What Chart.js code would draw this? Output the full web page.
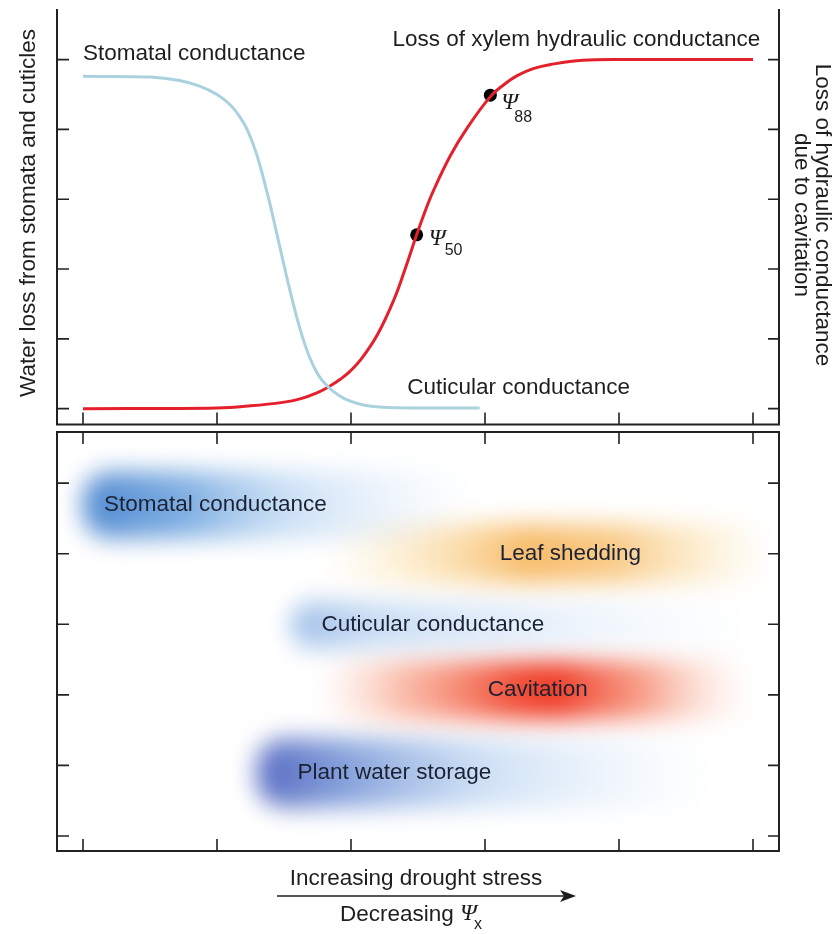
<!DOCTYPE html>
<html>
<head>
<meta charset="utf-8">
<script src="https://cdn.jsdelivr.net/npm/chart.js@4.4.0/dist/chart.umd.min.js"></script>
<style>
  body { margin: 0; background: #fff; }
  #wrap { position: relative; width: 832px; height: 934px; }
  #top { position: absolute; left: 0; top: 0; }
  #bottom { position: absolute; left: 0; top: 431px; }
</style>
</head>
<body>
<div id="wrap">
  <canvas id="top" width="832" height="431"></canvas>
  <canvas id="bottom" width="832" height="503"></canvas>
</div>
<script>
// axis ticks (no labels shown)
const xTicks = [0, 1, 2, 3, 4, 5];
const yTicks = [0, 1, 2, 3, 4, 5];

// top panel curves
const stomatalX = [0, 0.5, 0.72, 0.87, 1.0, 1.10, 1.17, 1.23, 1.30, 1.38, 1.44, 1.49, 1.55, 1.62, 1.69, 1.76, 1.83, 1.91, 1.99, 2.10, 2.24, 2.50, 2.96];
const stomatalY = [4.76, 4.75, 4.70, 4.62, 4.50, 4.35, 4.18, 3.98, 3.62, 3.05, 2.56, 2.14, 1.65, 1.14, 0.74, 0.47, 0.31, 0.19, 0.11, 0.05, 0.02, 0.01, 0.01];
const xylemX = [0, 1.0, 1.25, 1.49, 1.62, 1.75, 1.84, 1.92, 1.99, 2.08, 2.20, 2.32, 2.40, 2.49, 2.54, 2.61, 2.74, 2.87, 3.04, 3.14, 3.24, 3.36, 3.49, 3.73, 4.10, 5.0];
const xylemY = [0, 0.01, 0.04, 0.09, 0.14, 0.23, 0.32, 0.42, 0.53, 0.72, 1.07, 1.56, 1.98, 2.49, 2.76, 3.10, 3.62, 4.03, 4.47, 4.64, 4.77, 4.87, 4.93, 4.99, 5.0, 5.0];
const psiNames = ['50', '88'];
const psiX = [2.49, 3.04];
const psiY = [2.49, 4.49];
const topLabels = ['Stomatal conductance', 'Loss of xylem hydraulic conductance', 'Cuticular conductance'];
const leftTitle = 'Water loss from stomata and cuticles';
const rightTitle = ['Loss of hydraulic conductance', 'due to cavitation'];

// bottom panel bands
const bandNames = ['Stomatal conductance', 'Leaf shedding', 'Cuticular conductance', 'Cavitation', 'Plant water storage'];
const bandY = [4.69, 4.0, 2.99, 2.07, 0.89];
const bandStart = [0.0, 1.8, 1.55, 1.75, 1.3];
const bandEnd = [2.95, 5.15, 5.0, 5.0, 4.75];
const xLabelTop = 'Increasing drought stress';
const xLabelBottom = 'Decreasing ';

// placement / style (not data)
const FONT = '22.5px "Liberation Sans", Arial, sans-serif';
const PSI_FONT = 'italic 24px "Liberation Serif", serif';
const SUB_FONT = '16px "Liberation Sans", Arial, sans-serif';
const topLabelPos = [[0, 5.09], [2.31, 5.28], [2.42, 0.30]];
const psiOffset = [[12, 4, 16, 12], [11, 7, 13, 15]];
const bandLabelX = [0.157, 3.11, 1.78, 3.02, 1.60];
const bandThickness = [66, 58, 46, 58, 68];
const bandStops = [
  [[0, 'rgba(70,130,205,0.95)'], [0.25, 'rgba(92,152,218,0.8)'], [0.5, 'rgba(155,195,236,0.55)'], [0.8, 'rgba(205,225,246,0.3)'], [1, 'rgba(230,240,252,0)']],
  [[0, 'rgba(252,228,170,0)'], [0.2, 'rgba(251,212,140,0.45)'], [0.45, 'rgba(246,176,80,0.85)'], [0.65, 'rgba(247,185,95,0.75)'], [0.85, 'rgba(250,215,150,0.4)'], [1, 'rgba(252,232,190,0)']],
  [[0, 'rgba(125,168,225,0.75)'], [0.2, 'rgba(168,200,238,0.6)'], [0.6, 'rgba(205,225,246,0.42)'], [1, 'rgba(225,237,250,0)']],
  [[0, 'rgba(248,190,165,0)'], [0.2, 'rgba(246,140,110,0.6)'], [0.45, 'rgba(240,70,45,0.95)'], [0.55, 'rgba(240,60,40,1)'], [0.75, 'rgba(244,120,90,0.7)'], [1, 'rgba(250,210,190,0)']],
  [[0, 'rgba(76,96,190,0.95)'], [0.2, 'rgba(102,138,210,0.78)'], [0.5, 'rgba(162,196,236,0.5)'], [0.8, 'rgba(210,228,247,0.3)'], [1, 'rgba(235,243,252,0)']]
];

const toPoints = (xs, ys) => xs.map((v, i) => ({ x: v, y: ys[i] }));

// axis lines + inward tick marks
const frame = {
  id: 'frame',
  afterDraw(chart, args, opts) {
    const { ctx, chartArea: a, scales: { x, y } } = chart;
    ctx.save();
    ctx.strokeStyle = '#222';
    ctx.lineWidth = 2;
    ctx.beginPath();
    if (opts.box) {
      ctx.rect(a.left, a.top, a.right - a.left, a.bottom - a.top);
    } else {
      ctx.moveTo(a.left, a.top);
      ctx.lineTo(a.left, a.bottom);
      ctx.lineTo(a.right, a.bottom);
      ctx.lineTo(a.right, a.top);
    }
    ctx.stroke();
    ctx.lineWidth = 1.6;
    ctx.beginPath();
    xTicks.forEach(t => {
      const px = x.getPixelForValue(t);
      ctx.moveTo(px, a.bottom);
      ctx.lineTo(px, a.bottom - 12);
      if (opts.box) {
        ctx.moveTo(px, a.top);
        ctx.lineTo(px, a.top + 12);
      }
    });
    yTicks.forEach(t => {
      const py = y.getPixelForValue(t);
      ctx.moveTo(a.left, py);
      ctx.lineTo(a.left + 12, py);
      ctx.moveTo(a.right, py);
      ctx.lineTo(a.right - 11, py);
    });
    ctx.stroke();
    ctx.restore();
  }
};

const topText = {
  id: 'topText',
  afterDraw(chart) {
    const { ctx, scales: { x, y } } = chart;
    ctx.save();
    ctx.fillStyle = '#1e1e1e';
    ctx.font = FONT;
    ctx.textBaseline = 'middle';
    topLabels.forEach((t, i) => {
      ctx.fillText(t, x.getPixelForValue(topLabelPos[i][0]), y.getPixelForValue(topLabelPos[i][1]));
    });
    psiNames.forEach((n, i) => {
      const px = x.getPixelForValue(psiX[i]);
      const py = y.getPixelForValue(psiY[i]);
      const o = psiOffset[i];
      ctx.font = PSI_FONT;
      ctx.fillText('\u03A8', px + o[0], py + o[1]);
      ctx.font = SUB_FONT;
      ctx.fillText(n, px + o[0] + o[2], py + o[1] + o[3]);
    });
    ctx.font = FONT;
    ctx.textAlign = 'center';
    ctx.save();
    ctx.translate(29, 213);
    ctx.rotate(-Math.PI / 2);
    ctx.fillText(leftTitle, 0, 0);
    ctx.restore();
    ctx.save();
    ctx.translate(822, 215);
    ctx.rotate(Math.PI / 2);
    ctx.fillText(rightTitle[0], 0, 0);
    ctx.fillText(rightTitle[1], 0, 21);
    ctx.restore();
    ctx.restore();
  }
};

// soften the band bars
const blur = {
  id: 'blur',
  beforeDatasetsDraw(chart) {
    chart.ctx.save();
    chart.ctx.filter = 'blur(12px)';
  },
  afterDatasetsDraw(chart) {
    chart.ctx.restore();
  }
};

const bottomText = {
  id: 'bottomText',
  afterDraw(chart) {
    const { ctx, scales: { x, y } } = chart;
    ctx.save();
    ctx.fillStyle = '#1b2233';
    ctx.font = FONT;
    ctx.textBaseline = 'middle';
    bandNames.forEach((n, i) => {
      ctx.fillText(n, x.getPixelForValue(bandLabelX[i]), y.getPixelForValue(bandY[i]));
    });
    // x axis caption with arrow
    ctx.fillStyle = '#1e1e1e';
    ctx.textAlign = 'center';
    ctx.fillText(xLabelTop, 416, 448);
    ctx.strokeStyle = '#1e1e1e';
    ctx.lineWidth = 1.5;
    ctx.beginPath();
    ctx.moveTo(277, 465);
    ctx.lineTo(566, 465);
    ctx.stroke();
    ctx.beginPath();
    ctx.moveTo(576, 465);
    ctx.lineTo(560, 459);
    ctx.lineTo(564, 465);
    ctx.lineTo(560, 471);
    ctx.closePath();
    ctx.fill();
    ctx.textAlign = 'left';
    ctx.fillText(xLabelBottom, 340, 484);
    const w = ctx.measureText(xLabelBottom).width;
    ctx.font = PSI_FONT;
    ctx.fillText('\u03A8', 340 + w, 483);
    ctx.font = SUB_FONT;
    ctx.fillText('x', 340 + w + 14, 494);
    ctx.restore();
  }
};

const hidden = { display: false };

new Chart(document.getElementById('top'), {
  type: 'scatter',
  data: {
    datasets: [
      {
        data: toPoints(stomatalX, stomatalY),
        showLine: true,
        borderColor: '#a9d2de',
        borderWidth: 3,
        pointRadius: 0,
        tension: 0.4
      },
      {
        data: toPoints(xylemX, xylemY),
        showLine: true,
        borderColor: '#e3202b',
        borderWidth: 3,
        pointRadius: 0,
        tension: 0.4
      },
      {
        data: toPoints(psiX, psiY),
        showLine: false,
        pointRadius: 6.5,
        pointBackgroundColor: '#000',
        pointBorderWidth: 0
      }
    ]
  },
  options: {
    responsive: false,
    animation: false,
    events: [],
    layout: { padding: { left: 57, right: 53, top: 9, bottom: 3 } },
    scales: {
      x: { type: 'linear', min: -0.194, max: 5.194, ...hidden },
      y: { type: 'linear', min: -0.227, max: 5.725, ...hidden }
    },
    plugins: { legend: hidden, tooltip: { enabled: false }, frame: { box: false } }
  },
  plugins: [frame, topText]
});

new Chart(document.getElementById('bottom'), {
  type: 'bar',
  data: {
    datasets: bandNames.map((name, i) => ({
      label: name,
      data: [{ y: bandY[i], x: [bandStart[i], bandEnd[i]] }],
      barThickness: bandThickness[i],
      grouped: false,
      borderRadius: 28,
      borderSkipped: false,
      backgroundColor: (c) => {
        const area = c.chart.chartArea;
        if (!area) return bandStops[i][0][1];
        const xs = c.chart.scales.x;
        const g = c.chart.ctx.createLinearGradient(xs.getPixelForValue(bandStart[i]), 0, xs.getPixelForValue(bandEnd[i]), 0);
        bandStops[i].forEach(s => g.addColorStop(s[0], s[1]));
        return g;
      }
    }))
  },
  options: {
    indexAxis: 'y',
    responsive: false,
    animation: false,
    events: [],
    layout: { padding: { left: 57, right: 53, top: 1, bottom: 83 } },
    scales: {
      x: { type: 'linear', min: -0.194, max: 5.194, ...hidden },
      y: { type: 'linear', min: -0.213, max: 5.725, offset: false, ...hidden }
    },
    plugins: { legend: hidden, tooltip: { enabled: false }, frame: { box: true } }
  },
  plugins: [blur, frame, bottomText]
});
</script>
</body>
</html>
